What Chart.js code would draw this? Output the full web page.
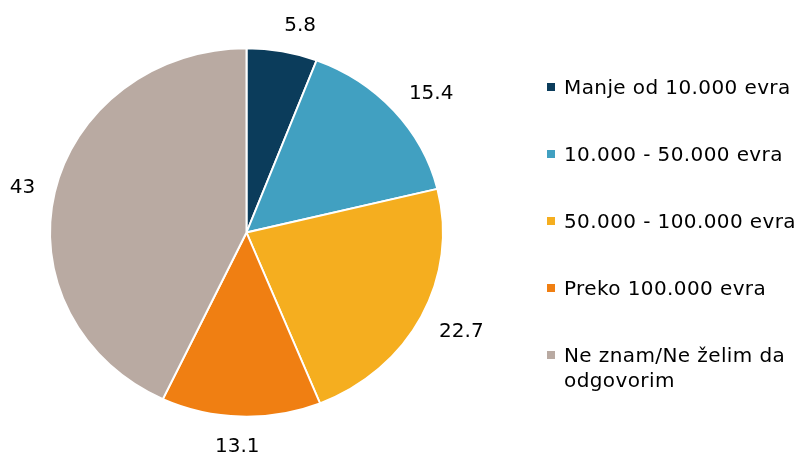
<!DOCTYPE html>
<html>
<head>
<meta charset="utf-8">
<script src="https://cdn.jsdelivr.net/npm/chart.js@4"></script>
<style>
  html, body { margin: 0; padding: 0; background: #fff; overflow: hidden; }
  #wrap { position: relative; width: 799px; height: 457px; overflow: hidden; }
  #legend {
    position: absolute; left: 545px; top: 75px;
    font-family: "DejaVu Sans", Verdana, sans-serif; font-size: 20px; color: #000;
    line-height: 25px; letter-spacing: 0.4px;
  }
  #legend .item { display: flex; align-items: flex-start; margin-bottom: 42px; width: 260px; }
  #legend .box { width: 8px; height: 8px; margin: 8px 9px 0 2px; flex: none; }
</style>
</head>
<body>
<div id="wrap">
  <canvas id="pie" width="799" height="457"></canvas>
  <div id="legend"></div>
</div>
<script>
var labels = ["Manje od 10.000 evra", "10.000 - 50.000 evra", "50.000 - 100.000 evra", "Preko 100.000 evra", "Ne znam/Ne želim da odgovorim"];
var values = [5.8, 15.4, 22.7, 13.1, 43];
var colors = ["#0b3c5b", "#41a0c1", "#f5ae1f", "#f07f12", "#b9aaa2"];

// pie is a bit wider than tall, squash it vertically around its centre
var ySquash = 0.937;
var labelGap = 20;
var labelFont = '20px "DejaVu Sans", Verdana, sans-serif';

var ovalPie = {
  id: 'ovalPie',
  beforeDatasetsDraw: function(chart) {
    var a = chart.getDatasetMeta(0).data[0];
    var ctx = chart.ctx;
    ctx.save();
    ctx.translate(a.x, a.y);
    ctx.scale(1, ySquash);
    ctx.translate(-a.x, -a.y);
  },
  afterDatasetsDraw: function(chart) {
    var ctx = chart.ctx;
    ctx.restore();

    // value labels just outside each slice, pushed to the outer side
    ctx.save();
    ctx.font = labelFont;
    ctx.fillStyle = '#000';
    ctx.textAlign = 'center';
    ctx.textBaseline = 'middle';
    chart.getDatasetMeta(0).data.forEach(function(arc, i) {
      var p = arc.getProps(['x', 'y', 'startAngle', 'endAngle', 'outerRadius'], true);
      var mid = (p.startAngle + p.endAngle) / 2;
      var c = Math.cos(mid), s = Math.sin(mid);
      var txt = String(values[i]);
      var hw = ctx.measureText(txt).width / 2;
      var hh = 8;
      var side = Math.max(-1, Math.min(1, c * 5));
      var x = p.x + c * (p.outerRadius + labelGap) + side * hw;
      var y = p.y + s * (p.outerRadius * ySquash + labelGap) + s * hh + 2;
      ctx.fillText(txt, x, y);
    });
    ctx.restore();
  }
};

new Chart(document.getElementById('pie'), {
  type: 'pie',
  data: {
    labels: labels,
    datasets: [{
      data: values,
      backgroundColor: colors,
      borderColor: '#fff',
      borderWidth: 2
    }]
  },
  options: {
    responsive: false,
    animation: false,
    layout: { padding: { left: 49, right: 355, top: 35, bottom: 27 } },
    plugins: {
      legend: { display: false },
      tooltip: { enabled: false }
    }
  },
  plugins: [ovalPie]
});

var legend = document.getElementById('legend');
labels.forEach(function(l, i) {
  var item = document.createElement('div');
  item.className = 'item';
  var box = document.createElement('span');
  box.className = 'box';
  box.style.background = colors[i];
  var t = document.createElement('span');
  t.textContent = l;
  item.appendChild(box);
  item.appendChild(t);
  legend.appendChild(item);
});
</script>
</body>
</html>
